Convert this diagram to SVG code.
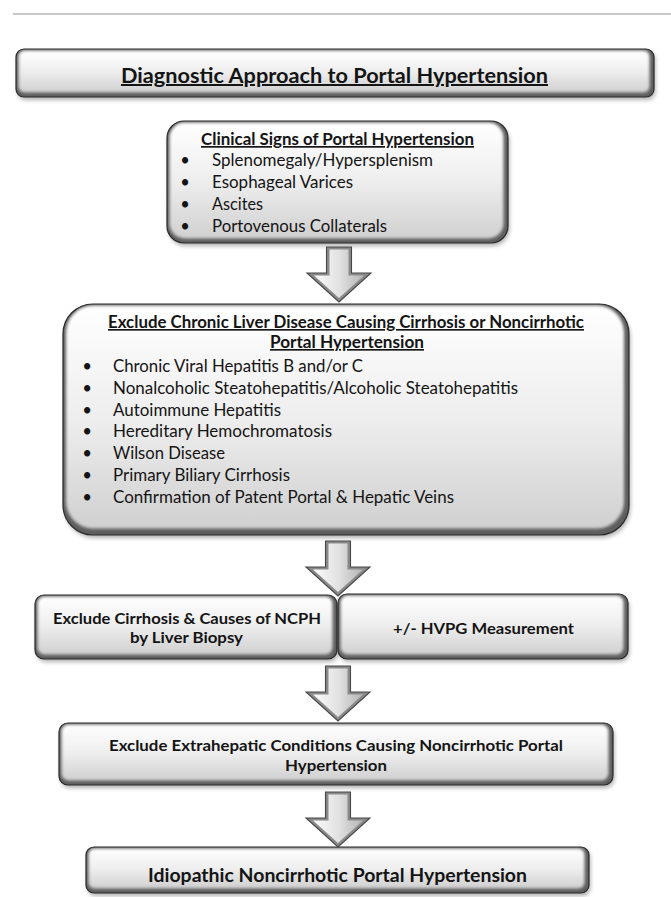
<svg xmlns="http://www.w3.org/2000/svg" xmlns:xlink="http://www.w3.org/1999/xlink" width="671" height="897" viewBox="0 0 671 897">
  <style>
    .t { font-family: Lato, "Open Sans", "Liberation Sans", sans-serif; fill: #141414; }
    .b { font-weight: bold; }
    .u { text-decoration: underline; }
    .shd { fill: #000; opacity: 0.3; filter: url(#blur2); }
    .base { fill: #5e5e5e; }
    .face { fill: url(#gv); filter: url(#blur1); }
    .edge { fill: none; stroke: #2a2a2a; stroke-width: 1.2; }
    .aout { fill: #8a8a8a; stroke: #474747; stroke-width: 1.1; }
    .ain { fill: url(#gh); }
  </style>
  <defs>
    <linearGradient id="gv" x1="0" y1="0" x2="0" y2="1">
      <stop offset="0" stop-color="#ffffff"/>
      <stop offset="0.5" stop-color="#eeeeee"/>
      <stop offset="1" stop-color="#d0d0d0"/>
    </linearGradient>
    <linearGradient id="gh" x1="0" y1="0" x2="1" y2="0">
      <stop offset="0" stop-color="#fbfbfb"/>
      <stop offset="0.5" stop-color="#e2e2e2"/>
      <stop offset="1" stop-color="#b4b4b4"/>
    </linearGradient>
    <filter id="blur1" x="-5%" y="-10%" width="110%" height="120%">
      <feGaussianBlur stdDeviation="1.6"/>
    </filter>
    <filter id="blur2" x="-5%" y="-20%" width="110%" height="140%">
      <feGaussianBlur stdDeviation="2"/>
    </filter>
    <g id="arrow">
      <polygon class="aout" points="-12.5,0 12.5,0 12.5,26 32,26 0,55 -32,26 -12.5,26"/>
      <polygon class="ain" points="-9.5,2.5 9.5,2.5 9.5,28.5 25,28.5 0,51 -25,28.5 -9.5,28.5"/>
    </g>
  </defs>

  <line x1="13" y1="14" x2="671" y2="14" stroke="#c8c8c8" stroke-width="2"/>

  <g id="title">
    <rect class="shd" x="17.5" y="52" width="638" height="48" rx="8"/>
    <rect class="base" x="16" y="49" width="638" height="48" rx="8"/>
    <rect class="face" x="18.5" y="50.5" width="631" height="42" rx="6"/>
    <rect class="edge" x="16" y="49" width="638" height="48" rx="8"/>
    <text class="t b u" x="121" y="83" font-size="20" textLength="427" lengthAdjust="spacingAndGlyphs">Diagnostic Approach to Portal Hypertension</text>
  </g>

  <g id="clinical-signs">
    <rect class="shd" x="168.5" y="124" width="341" height="122" rx="17"/>
    <rect class="base" x="167" y="121" width="341" height="122" rx="17"/>
    <rect class="face" x="169.5" y="122.5" width="334" height="116" rx="15"/>
    <rect class="edge" x="167" y="121" width="341" height="122" rx="17"/>
    <text class="t b u" x="201" y="145" font-size="17" textLength="273" lengthAdjust="spacingAndGlyphs">Clinical Signs of Portal Hypertension</text>
    <g class="t" font-size="16.5">
      <text x="185" y="166" text-anchor="middle">•</text>
      <text x="185" y="188" text-anchor="middle">•</text>
      <text x="185" y="210" text-anchor="middle">•</text>
      <text x="185" y="232" text-anchor="middle">•</text>
      <text x="212" y="166" textLength="221" lengthAdjust="spacingAndGlyphs">Splenomegaly/Hypersplenism</text>
      <text x="212" y="188" textLength="141" lengthAdjust="spacingAndGlyphs">Esophageal Varices</text>
      <text x="212" y="210" textLength="51" lengthAdjust="spacingAndGlyphs">Ascites</text>
      <text x="212" y="232" textLength="175" lengthAdjust="spacingAndGlyphs">Portovenous Collaterals</text>
    </g>
  </g>

  <g id="exclude-chronic">
    <rect class="shd" x="64.5" y="307" width="566" height="231" rx="30"/>
    <rect class="base" x="63" y="304" width="566" height="231" rx="30"/>
    <rect class="face" x="66" y="305.5" width="558" height="223" rx="27"/>
    <rect class="edge" x="63" y="304" width="566" height="231" rx="30"/>
    <text class="t b u" x="108" y="328" font-size="16.5" textLength="476" lengthAdjust="spacingAndGlyphs">Exclude Chronic Liver Disease Causing Cirrhosis or Noncirrhotic</text>
    <text class="t b u" x="270" y="348" font-size="16.5" textLength="154" lengthAdjust="spacingAndGlyphs">Portal Hypertension</text>
    <g class="t" font-size="16.8">
      <text x="87" y="372" text-anchor="middle">•</text>
      <text x="87" y="394" text-anchor="middle">•</text>
      <text x="87" y="416" text-anchor="middle">•</text>
      <text x="87" y="437" text-anchor="middle">•</text>
      <text x="87" y="459" text-anchor="middle">•</text>
      <text x="87" y="481" text-anchor="middle">•</text>
      <text x="87" y="503" text-anchor="middle">•</text>
      <text x="113" y="372" textLength="250" lengthAdjust="spacingAndGlyphs">Chronic Viral Hepatitis B and/or C</text>
      <text x="113" y="394" textLength="405" lengthAdjust="spacingAndGlyphs">Nonalcoholic Steatohepatitis/Alcoholic Steatohepatitis</text>
      <text x="113" y="416" textLength="168" lengthAdjust="spacingAndGlyphs">Autoimmune Hepatitis</text>
      <text x="113" y="437" textLength="219" lengthAdjust="spacingAndGlyphs">Hereditary Hemochromatosis</text>
      <text x="113" y="459" textLength="112" lengthAdjust="spacingAndGlyphs">Wilson Disease</text>
      <text x="113" y="481" textLength="177" lengthAdjust="spacingAndGlyphs">Primary Biliary Cirrhosis</text>
      <text x="113" y="503" textLength="341" lengthAdjust="spacingAndGlyphs">Confirmation of Patent Portal &amp; Hepatic Veins</text>
    </g>
  </g>

  <g id="liver-biopsy">
    <rect class="shd" x="36.5" y="598" width="302" height="64" rx="9"/>
    <rect class="base" x="35" y="595" width="302" height="64" rx="9"/>
    <rect class="face" x="37.5" y="596.5" width="295" height="58" rx="7"/>
    <rect class="edge" x="35" y="595" width="302" height="64" rx="9"/>
    <text class="t b" x="53" y="624" font-size="16" textLength="268" lengthAdjust="spacingAndGlyphs">Exclude Cirrhosis &amp; Causes of NCPH</text>
    <text class="t b" x="130" y="643" font-size="16" textLength="113" lengthAdjust="spacingAndGlyphs">by Liver Biopsy</text>
  </g>

  <g id="hvpg">
    <rect class="shd" x="339.5" y="597" width="290" height="65" rx="9"/>
    <rect class="base" x="338" y="594" width="290" height="65" rx="9"/>
    <rect class="face" x="340.5" y="595.5" width="283" height="59" rx="7"/>
    <rect class="edge" x="338" y="594" width="290" height="65" rx="9"/>
    <text class="t b" x="393" y="634" font-size="16" textLength="181" lengthAdjust="spacingAndGlyphs">+/- HVPG Measurement</text>
  </g>

  <g id="extrahepatic">
    <rect class="shd" x="60.5" y="726" width="554" height="62" rx="9"/>
    <rect class="base" x="59" y="723" width="554" height="62" rx="9"/>
    <rect class="face" x="61.5" y="724.5" width="547" height="56" rx="7"/>
    <rect class="edge" x="59" y="723" width="554" height="62" rx="9"/>
    <text class="t b" x="109" y="751" font-size="16" textLength="454" lengthAdjust="spacingAndGlyphs">Exclude Extrahepatic Conditions Causing Noncirrhotic Portal</text>
    <text class="t b" x="285" y="771" font-size="16" textLength="102" lengthAdjust="spacingAndGlyphs">Hypertension</text>
  </g>

  <g id="idiopathic">
    <rect class="shd" x="87.5" y="850" width="503" height="46" rx="8"/>
    <rect class="base" x="86" y="847" width="503" height="46" rx="8"/>
    <rect class="face" x="88.5" y="848.5" width="496" height="40" rx="6"/>
    <rect class="edge" x="86" y="847" width="503" height="46" rx="8"/>
    <text class="t b" x="148" y="882" font-size="19.5" textLength="379" lengthAdjust="spacingAndGlyphs">Idiopathic Noncirrhotic Portal Hypertension</text>
  </g>

  <g id="connectors">
    <use xlink:href="#arrow" href="#arrow" x="339" y="247"/>
    <use xlink:href="#arrow" href="#arrow" x="338" y="541"/>
    <use xlink:href="#arrow" href="#arrow" x="338" y="666"/>
    <use xlink:href="#arrow" href="#arrow" x="338" y="792"/>
  </g>
</svg>
